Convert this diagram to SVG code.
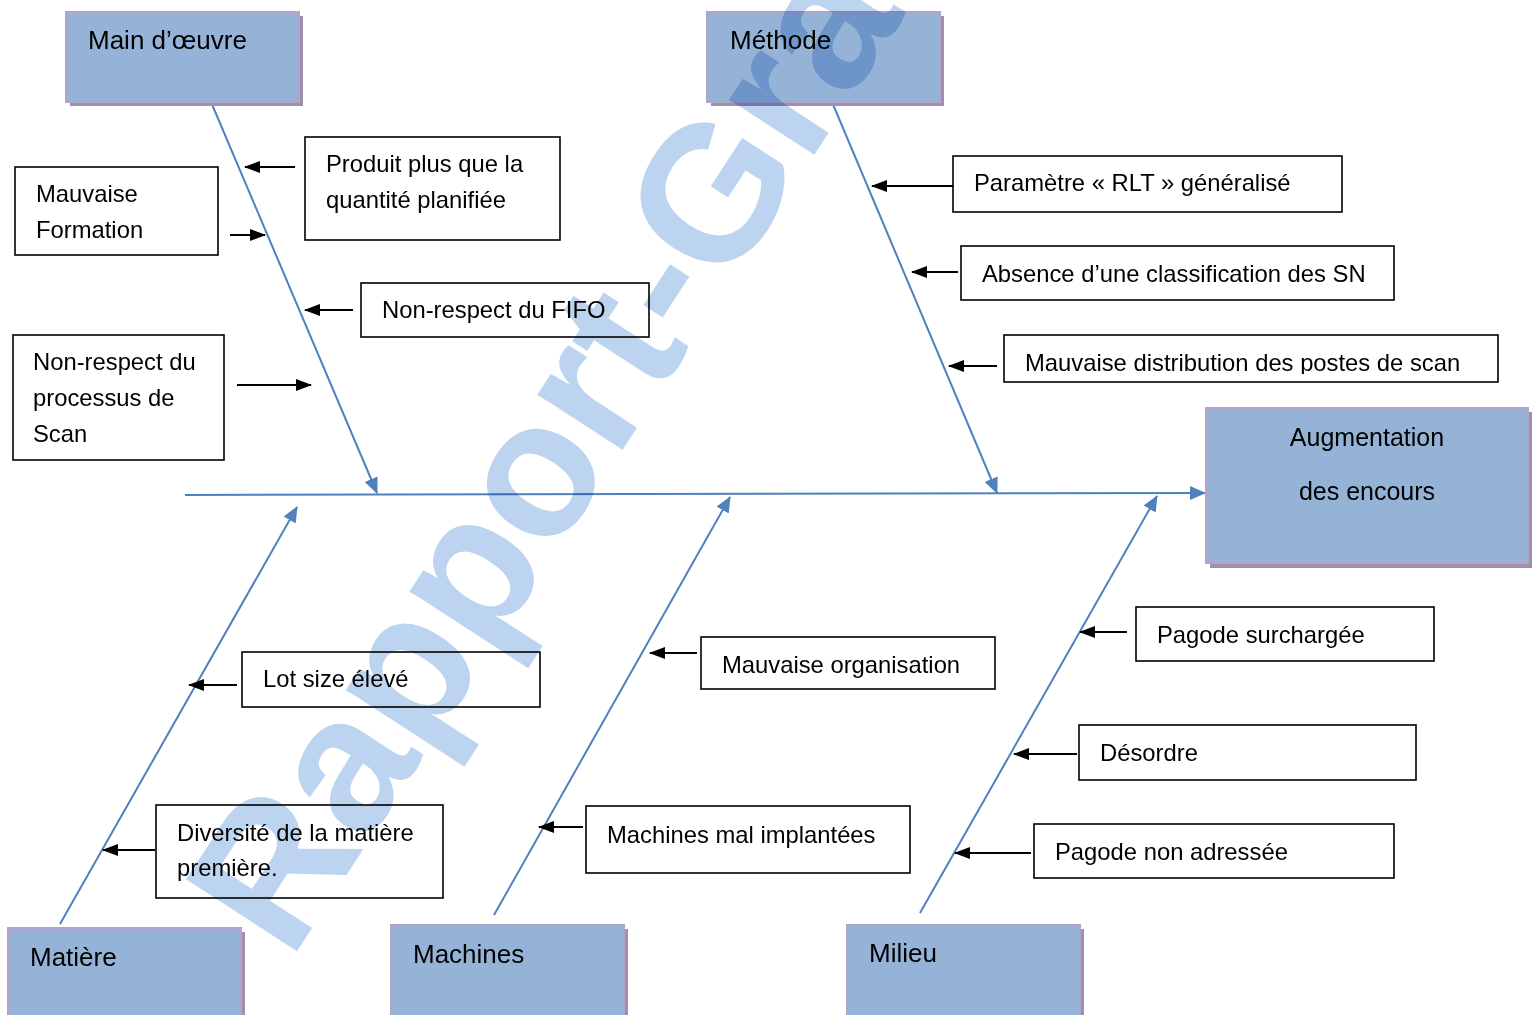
<svg xmlns="http://www.w3.org/2000/svg" width="1539" height="1015" viewBox="0 0 1539 1015">
<style>
.cat{fill:#95b3d7;stroke:#b4a3c9;stroke-width:2}
.shd{fill:#9e90ae}
.ct{font-family:"Liberation Sans",Arial,sans-serif;font-size:26px;fill:#000}
.cause{fill:#fff;stroke:#000;stroke-width:1.6}
.t{font-family:"Liberation Sans",Arial,sans-serif;font-size:23.8px;fill:#000}
.bone{stroke:#4f81bd;stroke-width:2;fill:none}
.arr{stroke:#000;stroke-width:2;fill:none}
.wm{font-family:"Liberation Sans",Arial,sans-serif;font-weight:bold;font-size:192px;fill:#bcd4ef;mix-blend-mode:multiply}
</style>
<defs>
<marker id="mb" markerUnits="userSpaceOnUse" markerWidth="16" markerHeight="14" refX="15" refY="7" orient="auto"><path d="M0,0 L16,7 L0,14 z" fill="#4f81bd"/></marker>
<marker id="mk" markerUnits="userSpaceOnUse" markerWidth="16" markerHeight="12" refX="15" refY="6" orient="auto"><path d="M0,0 L16,6 L0,12 z" fill="#000"/></marker>
<clipPath id="clipMd"><rect x="1005" y="336" width="492" height="38"/></clipPath>
</defs>

<g id="connectors">
<line class="bone" x1="185" y1="495" x2="1205" y2="493" marker-end="url(#mb)"/>
<line class="bone" x1="211" y1="102" x2="377" y2="493" marker-end="url(#mb)"/>
<line class="bone" x1="832" y1="102" x2="997" y2="493" marker-end="url(#mb)"/>
<line class="bone" x1="60" y1="924" x2="297" y2="507" marker-end="url(#mb)"/>
<line class="bone" x1="494" y1="915" x2="730" y2="497" marker-end="url(#mb)"/>
<line class="bone" x1="920" y1="913" x2="1157" y2="496" marker-end="url(#mb)"/>
<line class="arr" x1="295" y1="167" x2="245" y2="167" marker-end="url(#mk)"/>
<line class="arr" x1="230" y1="235" x2="265" y2="235" marker-end="url(#mk)"/>
<line class="arr" x1="353" y1="310" x2="305" y2="310" marker-end="url(#mk)"/>
<line class="arr" x1="237" y1="385" x2="311" y2="385" marker-end="url(#mk)"/>
<line class="arr" x1="953" y1="186" x2="872" y2="186" marker-end="url(#mk)"/>
<line class="arr" x1="958" y1="272" x2="912" y2="272" marker-end="url(#mk)"/>
<line class="arr" x1="997" y1="366" x2="949" y2="366" marker-end="url(#mk)"/>
<line class="arr" x1="237" y1="685" x2="189" y2="685" marker-end="url(#mk)"/>
<line class="arr" x1="155" y1="850" x2="103" y2="850" marker-end="url(#mk)"/>
<line class="arr" x1="697" y1="653" x2="650" y2="653" marker-end="url(#mk)"/>
<line class="arr" x1="583" y1="827" x2="539" y2="827" marker-end="url(#mk)"/>
<line class="arr" x1="1127" y1="632" x2="1080" y2="632" marker-end="url(#mk)"/>
<line class="arr" x1="1077" y1="754" x2="1014" y2="754" marker-end="url(#mk)"/>
<line class="arr" x1="1031" y1="853" x2="955" y2="853" marker-end="url(#mk)"/>
</g>

<g id="main-oeuvre"><rect class="shd" x="70" y="16" width="233" height="90"/><rect class="cat" x="66" y="12" width="233" height="90"/><text class="ct" x="88" y="49">Main d’œuvre</text></g>
<g id="methode"><rect class="shd" x="711" y="16" width="233" height="90"/><rect class="cat" x="707" y="12" width="233" height="90"/><text class="ct" x="730" y="49">Méthode</text></g>
<g id="effet"><rect class="shd" x="1210" y="412" width="322" height="156"/><rect class="cat" x="1206" y="408" width="322" height="155"/><text class="ct" x="1367" y="446" text-anchor="middle" style="font-size:25px">Augmentation</text><text class="ct" x="1367" y="500" text-anchor="middle" style="font-size:25px">des encours</text></g>
<g id="matiere"><rect class="shd" x="12" y="932" width="233" height="90"/><rect class="cat" x="8" y="928" width="233" height="92"/><text class="ct" x="30" y="966">Matière</text></g>
<g id="machines"><rect class="shd" x="395" y="929" width="233" height="90"/><rect class="cat" x="391" y="925" width="233" height="95"/><text class="ct" x="413" y="963">Machines</text></g>
<g id="milieu"><rect class="shd" x="851" y="929" width="233" height="90"/><rect class="cat" x="847" y="925" width="233" height="95"/><text class="ct" x="869" y="962">Milieu</text></g>

<g id="c-produit"><rect class="cause" x="305" y="137" width="255" height="103"/><text class="t" x="326" y="172">Produit plus que la</text><text class="t" x="326" y="208">quantité planifiée</text></g>
<g id="c-formation"><rect class="cause" x="15" y="167" width="203" height="88"/><text class="t" x="36" y="202">Mauvaise</text><text class="t" x="36" y="238">Formation</text></g>
<g id="c-fifo"><rect class="cause" x="361" y="283" width="288" height="54"/><text class="t" x="382" y="318">Non-respect du FIFO</text></g>
<g id="c-scan"><rect class="cause" x="13" y="335" width="211" height="125"/><text class="t" x="33" y="370">Non-respect du</text><text class="t" x="33" y="406">processus de</text><text class="t" x="33" y="442">Scan</text></g>
<g id="c-rlt"><rect class="cause" x="953" y="156" width="389" height="56"/><text class="t" x="974" y="191">Paramètre « RLT » généralisé</text></g>
<g id="c-classif"><rect class="cause" x="961" y="246" width="433" height="54"/><text class="t" x="982" y="282">Absence d’une classification des SN</text></g>
<g id="c-distrib"><rect class="cause" x="1004" y="335" width="494" height="47"/><text class="t" x="1025" y="371" clip-path="url(#clipMd)">Mauvaise distribution des postes de scan</text></g>
<g id="c-lot"><rect class="cause" x="242" y="652" width="298" height="55"/><text class="t" x="263" y="687">Lot size élevé</text></g>
<g id="c-diversite"><rect class="cause" x="156" y="805" width="287" height="93"/><text class="t" x="177" y="841">Diversité de la matière</text><text class="t" x="177" y="876">première.</text></g>
<g id="c-organisation"><rect class="cause" x="701" y="637" width="294" height="52"/><text class="t" x="722" y="673">Mauvaise organisation</text></g>
<g id="c-implantees"><rect class="cause" x="586" y="806" width="324" height="67"/><text class="t" x="607" y="843">Machines mal implantées</text></g>
<g id="c-pagode"><rect class="cause" x="1136" y="607" width="298" height="54"/><text class="t" x="1157" y="643">Pagode surchargée</text></g>
<g id="c-desordre"><rect class="cause" x="1079" y="725" width="337" height="55"/><text class="t" x="1100" y="761">Désordre</text></g>
<g id="c-adressee"><rect class="cause" x="1034" y="824" width="360" height="54"/><text class="t" x="1055" y="860">Pagode non adressée</text></g>

<text class="wm" transform="translate(290,962) rotate(-57)">Rapport-Gra</text>
</svg>
